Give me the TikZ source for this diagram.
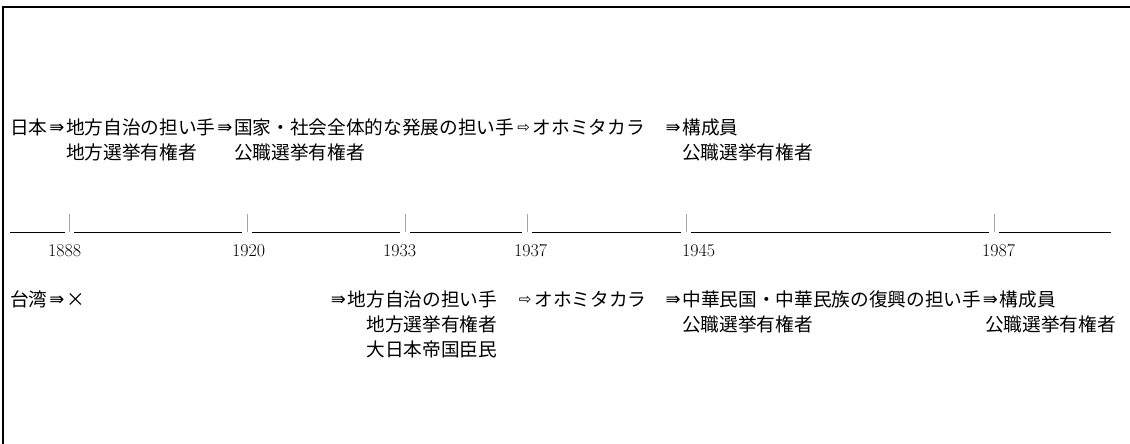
\documentclass[tikz,border=0pt]{standalone}
\usepackage{fontspec}
\newfontfamily\jp{Noto Sans CJK JP}
\newfontfamily\sym{DejaVu Sans}
\newcommand{\ARR}{\makebox[1em]{\raisebox{1pt}{\sym\fontsize{18}{18}\selectfont ⇛}}}
\newcommand{\HARR}{\makebox[1em]{\raisebox{1.5pt}{\sym\fontsize{15}{15}\selectfont ⇨}}}
\newcommand{\CROSS}{\makebox[1em]{×}}
\begin{document}
\begin{tikzpicture}[x=1pt,y=-1pt,
  jt/.style={anchor=base west,inner sep=0pt,font=\jp\fontsize{18.67}{18.67}\selectfont},
  yr/.style={anchor=base west,inner sep=0pt,font=\fontsize{18}{18}\selectfont},
  seg/.style={line width=0.9pt},
  tickmark/.style={draw=gray!70,line width=0.8pt},
  frame/.style={line width=2pt}]
\useasboundingbox (0,0) rectangle (1130,444);
\draw[frame] (3,444) -- (3,7) -- (1130,7);
% upper rows (Japan)
\node[jt] (r1a) at (10,134) {日本\ARR 地方自治の担い手\ARR 国家・社会全体的な発展の担い手\HARR オホミタカラ};
\node[jt] (r1b) at (663.5,134) {\ARR 構成員};
\node[jt] (r2a) at (66,159) {地方選挙有権者};
\node[jt] (r2b) at (234,159) {公職選挙有権者};
\node[jt] (r2c) at (682,159) {公職選挙有権者};
% timeline
\foreach \a/\b in {10/65,74/242,252/400,410/522,532/681,691/989,999/1111}
  \draw[seg] (\a,232) -- (\b,232);
\foreach \x in {69,247,405,527,686,994}
  \draw[tickmark] (\x,214) -- (\x,232);
\node[yr] (y1888) at (48,256) {1888};
\node[yr] (y1920) at (232,256) {1920};
\node[yr] (y1933) at (383,256) {1933};
\node[yr] (y1937) at (514,256) {1937};
\node[yr] (y1945) at (682,256) {1945};
\node[yr] (y1987) at (982,256) {1987};
% lower rows (Taiwan)
\node[jt] (r3a) at (10,306) {台湾\ARR\CROSS};
\node[jt] (r3b) at (329,306) {\ARR 地方自治の担い手};
\node[jt] (r3c) at (515.7,306) {\HARR オホミタカラ};
\node[jt] (r3d) at (663.5,306) {\ARR 中華民国・中華民族の復興の担い手\ARR 構成員};
\node[jt] (r4a) at (366.3,331) {地方選挙有権者};
\node[jt] (r4b) at (682,331) {公職選挙有権者};
\node[jt] (r4c) at (985,331) {公職選挙有権者};
\node[jt] (r5a) at (366.3,356) {大日本帝国臣民};
\end{tikzpicture}
\end{document}
